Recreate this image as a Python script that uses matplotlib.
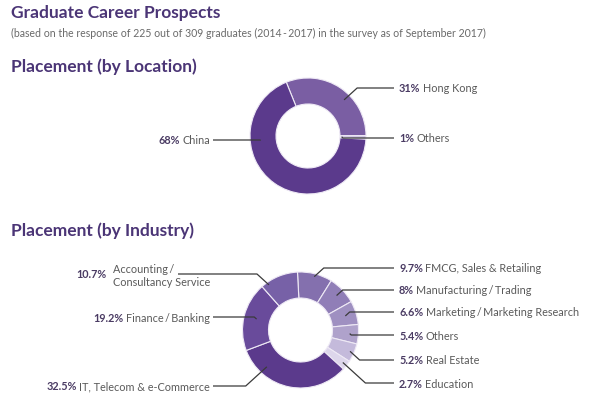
import numpy as np
import matplotlib.pyplot as plt

plt.rcParams['font.family'] = ['Lato', 'DejaVu Sans']

# ---- data ----
loc_names = ['Hong Kong', 'Others', 'China']
loc_pct = [31, 1, 68]
loc_colors = ['#7a5ea3', '#cdc2e2', '#5b3a8c']

ind_names = ['FMCG, Sales & Retailing', 'Manufacturing\u2009/\u2009Trading',
             'Marketing\u2009/\u2009Marketing Research', 'Others', 'Real Estate',
             'Education', 'IT, Telecom & e-Commerce', 'Finance\u2009/\u2009Banking',
             'Accounting\u2009/\nConsultancy Service']
ind_pct = [9.7, 8, 6.6, 5.4, 5.2, 2.7, 32.5, 19.2, 10.7]
ind_colors = ['#8470ae', '#907eb7', '#9f90c1', '#afa2cb', '#c4badb',
              '#ddd6eb', '#5b3a8c', '#694b9b', '#7761a7']

# ---- layout (pixels, y from top) ----
W, H = 589, 400
R, R_IN = 58, 32
loc_center, loc_start = (308, 136), 112
ind_center, ind_start = (300.5, 330), 93
loc_side = ['right', 'right', 'left']
loc_label_y = [88, 138, 140]
loc_anchor = [0.6, 0.5, 0.7]
loc_anchor_r = [0.88, 0.58, 0.82]
ind_side = ['right'] * 6 + ['left'] * 3
ind_label_y = [268, 290, 312, 335, 360, 383, 386, 317, 274]
ind_anchor = [0.5, 0.5, 0.5, 0.5, 0.5, 0.5, 0.77, 0.5, 0.17]
ind_anchor_r = [0.95, 0.86, 0.81, 0.85, 0.93, 0.92, 0.86, 0.78, 0.95]

TITLE_C = '#4b3576'
PCT_C = '#4a3b63'
NAME_C = '#5a5a5a'
LINE_C = '#3a3a3a'
EDGE_C = '#eee9f5'
RIGHT_X = 399   # left edge of right-hand labels
LEFT_X = 210    # right edge of left-hand labels
LBL_FS = 7.8

fig = plt.figure(figsize=(W / 100, H / 100), dpi=100)
ax = fig.add_axes([0, 0, 1, 1])
renderer = fig.canvas.get_renderer()


def fix_limits():
    ax.set_xlim(0, W)
    ax.set_ylim(0, H)
    ax.set_aspect('auto')


def ext(t):
    bb = t.get_window_extent(renderer=renderer)
    return bb.x0, bb.x1


def donut(values, colors, names, center, start, sides, label_y, anchor, anchor_r):
    cx, cy = center[0], H - center[1]
    ax.pie(values, colors=colors, startangle=start, counterclock=False,
           center=(cx, cy), radius=R,
           wedgeprops=dict(width=R - R_IN, edgecolor=EDGE_C, linewidth=0.8))
    fix_limits()
    total = float(sum(values))
    cum = np.concatenate([[0], np.cumsum(values)]) / total
    for i, v in enumerate(values):
        a0 = start - 360 * cum[i]
        a1 = start - 360 * cum[i + 1]
        ang = np.radians(a0 + anchor[i] * (a1 - a0))
        px = cx + anchor_r[i] * R * np.cos(ang)
        py = cy + anchor_r[i] * R * np.sin(ang)
        ly = H - label_y[i]
        dy = abs(ly - py)
        pct = '%g%%' % v
        if sides[i] == 'right':
            tp = ax.text(RIGHT_X, ly, pct, fontsize=LBL_FS, fontweight='bold',
                         color=PCT_C, ha='left', va='center_baseline')
            x1 = ext(tp)[1]
            ax.text(x1 + 2.5, ly, names[i], fontsize=LBL_FS, color=NAME_C,
                    ha='left', va='center_baseline')
            ex = min(px + 1.1 * dy, RIGHT_X - 5)
            ax.plot([px, ex, RIGHT_X - 5], [py, ly, ly], color=LINE_C, lw=0.9,
                    solid_capstyle='butt')
        else:
            tn = ax.text(LEFT_X, ly, names[i], fontsize=LBL_FS, color=NAME_C,
                         ha='right', va='center_baseline', ma='left',
                         linespacing=1.2)
            x0 = ext(tn)[0]
            gap = 6 if '\n' in names[i] else 2.5
            ax.text(x0 - gap, ly, pct, fontsize=LBL_FS, fontweight='bold',
                    color=PCT_C, ha='right', va='center_baseline')
            first = names[i].split('\n')[0]
            tf = ax.text(x0, ly, first, fontsize=LBL_FS, alpha=0)
            sx = ext(tf)[1] + 4 if '\n' in names[i] else LEFT_X + 3
            ex = max(px - 1.1 * dy, sx)
            ax.plot([sx, ex, px], [ly, ly, py], color=LINE_C, lw=0.9,
                    solid_capstyle='butt')


donut(loc_pct, loc_colors, loc_names, loc_center, loc_start,
      loc_side, loc_label_y, loc_anchor, loc_anchor_r)
donut(ind_pct, ind_colors, ind_names, ind_center, ind_start,
      ind_side, ind_label_y, ind_anchor, ind_anchor_r)

ax.text(11, H - 11.5, 'Graduate Career Prospects', fontsize=12.5, fontweight='bold',
        color=TITLE_C, ha='left', va='center_baseline')
ax.text(11, H - 32, '(based on the response of 225 out of 309 graduates (2014\u2009-\u20092017) '
        'in the survey as of September 2017)', fontsize=7.6, color='#6a6a6a',
        ha='left', va='center_baseline')
ax.text(11, H - 65, 'Placement (by Location)', fontsize=12.5, fontweight='bold',
        color=TITLE_C, ha='left', va='center_baseline')
ax.text(11, H - 229, 'Placement (by Industry)', fontsize=12.5, fontweight='bold',
        color=TITLE_C, ha='left', va='center_baseline')

fix_limits()
ax.axis('off')
fig.savefig('out.png', dpi=100, facecolor='white')
